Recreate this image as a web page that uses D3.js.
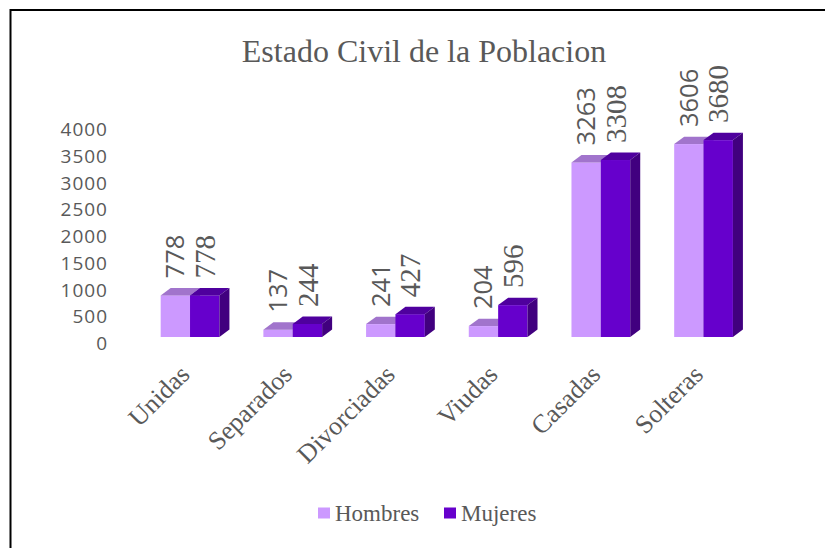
<!DOCTYPE html>
<html>
<head>
<meta charset="utf-8">
<script src="https://cdn.jsdelivr.net/npm/d3@7"></script>
<style>
  body { margin: 0; background: #fff; }
  text { fill: #595959; }
</style>
</head>
<body>
<div id="chart"></div>
<script>
// data
var categories = ["Unidas", "Separados", "Divorciadas", "Viudas", "Casadas", "Solteras"];
var seriesNames = ["Hombres", "Mujeres"];
var hombres = [778, 137, 241, 204, 3263, 3606];
var mujeres = [778, 244, 427, 596, 3308, 3680];
var yTicks = [0, 500, 1000, 1500, 2000, 2500, 3000, 3500, 4000];

var colors = {
  Hombres: { front: "#cc99ff", top: "#a174cc", side: "#9a6ad0" },
  Mujeres: { front: "#6600cc", top: "#4f009e", side: "#41007f" }
};

var svgWidth = 825;
var svgHeight = 548;

// 3D depth offset of the bars
var depthX = 10;
var depthY = 7.4;

var svg = d3.select("#chart")
  .append("svg")
  .attr("width", svgWidth)
  .attr("height", svgHeight);

// outer frame of the chart area
svg.append("rect")
  .attr("x", 10.5)
  .attr("y", 10)
  .attr("width", 830)
  .attr("height", 560)
  .attr("fill", "none")
  .attr("stroke", "#000")
  .attr("stroke-width", 2);

// title
svg.append("text")
  .attr("x", 424)
  .attr("y", 62)
  .attr("text-anchor", "middle")
  .style("font-family", "'Liberation Serif', 'Times New Roman', serif")
  .style("font-size", "32px")
  .text("Estado Civil de la Poblacion");

// scales
var x0 = d3.scaleBand()
  .domain(categories)
  .range([138.7, 138.7 + 6 * 102.7])
  .paddingInner(0.428)
  .paddingOuter(0.214);

var x1 = d3.scaleBand()
  .domain(seriesNames)
  .range([0, x0.bandwidth()]);

var y = d3.scaleLinear()
  .domain([0, 4000])
  .range([337, 337 - 214]);

// y axis (labels only)
var yAxis = svg.append("g")
  .attr("transform", "translate(110, 6.5)")
  .call(d3.axisLeft(y).tickValues(yTicks).tickSize(0).tickPadding(2).tickFormat(d3.format("d")));
yAxis.select(".domain").remove();
yAxis.selectAll("text")
  .style("font-family", "'Open Sans', sans-serif")
  .style("font-size", "19px")
  .style("letter-spacing", "1px")
  .attr("fill", "#595959");

// build rows from the arrays
var rows = categories.map(function (c, i) {
  return { category: c, values: [
    { series: "Hombres", value: hombres[i] },
    { series: "Mujeres", value: mujeres[i] }
  ] };
});

var groups = svg.selectAll("g.cat")
  .data(rows)
  .enter()
  .append("g")
  .attr("class", "cat")
  .attr("transform", d => `translate(${x0(d.category)}, 0)`);

var bars = groups.selectAll("g.bar")
  .data(d => d.values)
  .enter()
  .append("g")
  .attr("class", "bar");

// front face
bars.append("rect")
  .attr("x", d => x1(d.series))
  .attr("y", d => y(d.value))
  .attr("width", x1.bandwidth())
  .attr("height", d => y(0) - y(d.value))
  .attr("fill", d => colors[d.series].front);

// top face
bars.append("path")
  .attr("d", function (d) {
    var xa = x1(d.series), xb = xa + x1.bandwidth(), yt = y(d.value);
    return `M${xa},${yt}L${xa + depthX},${yt - depthY}L${xb + depthX},${yt - depthY}L${xb},${yt}Z`;
  })
  .attr("fill", d => colors[d.series].top);

// side face
bars.append("path")
  .attr("d", function (d) {
    var xb = x1(d.series) + x1.bandwidth(), yt = y(d.value), yb = y(0);
    return `M${xb},${yt}L${xb + depthX},${yt - depthY}L${xb + depthX},${yb - depthY}L${xb},${yb}Z`;
  })
  .attr("fill", d => colors[d.series].side);

// value labels, rotated
bars.append("text")
  .attr("transform", function (d) {
    var cx = x1(d.series) + x1.bandwidth() / 2;
    return `translate(${cx}, ${y(d.value) - 17}) rotate(-90)`;
  })
  .attr("text-anchor", "start")
  .attr("dy", "0.35em")
  .style("font-family", d => d.series === "Hombres" ? "'Open Sans', sans-serif" : "'Liberation Serif', serif")
  .style("font-size", d => d.series === "Hombres" ? "25.5px" : "29px")
  .text(d => d.value);

// category labels, rotated -45
svg.selectAll("text.cat-label")
  .data(categories)
  .enter()
  .append("text")
  .attr("class", "cat-label")
  .attr("transform", d => `translate(${x0(d) + x0.bandwidth() / 2 + 1}, ${376}) rotate(-45)`)
  .attr("text-anchor", "end")
  .style("font-family", "'Liberation Serif', serif")
  .style("font-size", "26px")
  .text(d => d);

// legend
var legend = svg.append("g");
var legendX = [318, 444];
seriesNames.forEach(function (s, i) {
  legend.append("rect")
    .attr("x", legendX[i])
    .attr("y", 507.5)
    .attr("width", 12)
    .attr("height", 11)
    .attr("fill", colors[s].front);
  legend.append("text")
    .attr("x", legendX[i] + 17)
    .attr("y", 521)
    .style("font-family", "'Liberation Serif', serif")
    .style("font-size", "23px")
    .text(s);
});
</script>
</body>
</html>
